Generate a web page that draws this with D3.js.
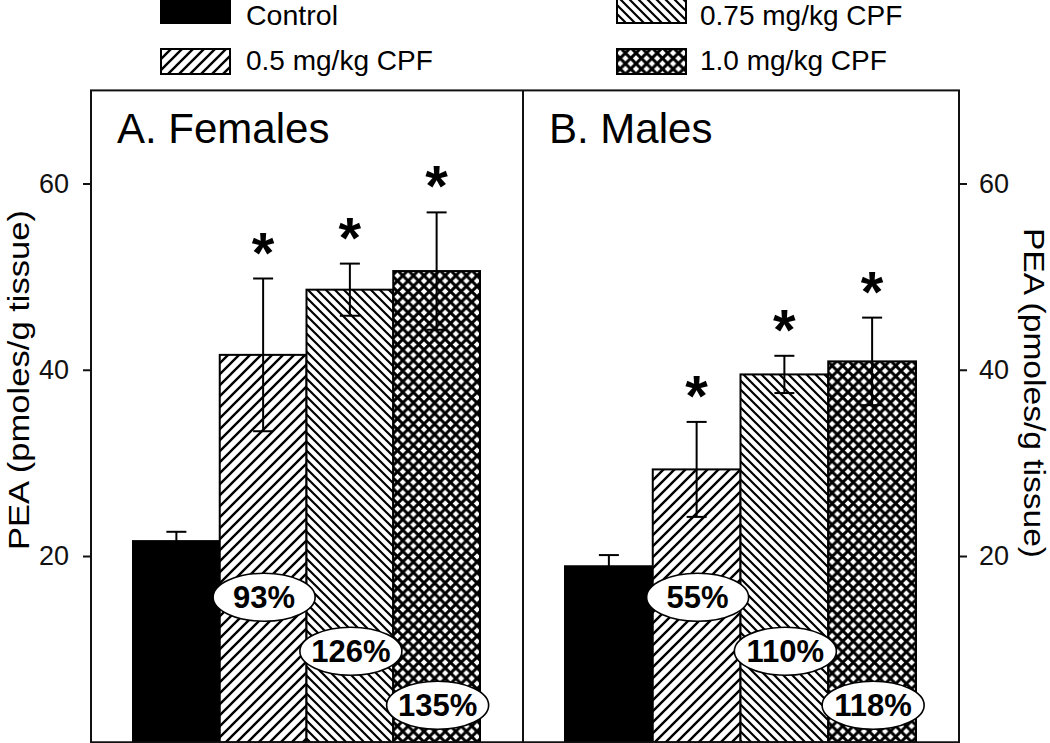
<!DOCTYPE html>
<html>
<head>
<meta charset="utf-8">
<script src="https://cdn.jsdelivr.net/npm/d3@7"></script>
<style>
  html, body { margin: 0; padding: 0; background: #fff; }
  svg { display: block; font-family: "Liberation Sans", Arial, sans-serif; }
</style>
</head>
<body>
<svg id="chart" width="1050" height="743"></svg>
<script>
// ---- data ----
const groups = ["Control", "0.5 mg/kg CPF", "0.75 mg/kg CPF", "1.0 mg/kg CPF"];
const panelTitles = ["A. Females", "B. Males"];
const femaleMeans = [21.6, 41.6, 48.6, 50.6];
const femaleSE = [1.0, 8.2, 2.8, 6.3];
const maleMeans = [18.9, 29.3, 39.5, 40.9];
const maleSE = [1.2, 5.1, 2.0, 4.7];
const femaleSig = [false, true, true, true];
const maleSig = [false, true, true, true];
const femalePct = ["", "93%", "126%", "135%"];
const malePct = ["", "55%", "110%", "118%"];
const yTicks = [20, 40, 60];
const yTitle = "PEA (pmoles/g tissue)";

const panels = [
  { title: panelTitles[0], means: femaleMeans, se: femaleSE, sig: femaleSig, pct: femalePct },
  { title: panelTitles[1], means: maleMeans, se: maleSE, sig: maleSig, pct: malePct }
];

// ---- layout ----
const svg = d3.select("#chart");
const frameL = 91, frameM = 523, frameR = 959;
const y = d3.scaleLinear().domain([0, 70]).range([742.25, 90.4]);
const panelX = [[frameL, frameM], [frameM, frameR]];

// ---- patterns ----
const defs = svg.append("defs");
function hatch(id, s, sw, dirs) {
  const p = defs.append("pattern").attr("id", id).attr("patternUnits", "userSpaceOnUse")
    .attr("width", s).attr("height", s);
  p.append("rect").attr("width", s).attr("height", s).attr("fill", "#fff");
  dirs.forEach(d => {
    const path = d === "/" 
      ? `M${-s},${s} L${s},${-s} M0,${2*s} L${2*s},0 M${-s},${2*s} L${2*s},${-s}`
      : `M${-s},0 L${s},${2*s} M0,${-s} L${2*s},${s} M${-s},${-s} L${2*s},${2*s}`;
    p.append("path").attr("d", path).attr("stroke", "#000").attr("stroke-width", sw).attr("fill", "none");
  });
}
hatch("p05", 11, 2.4, ["/"]);
hatch("p075", 9, 2.2, ["\\"]);
hatch("p10", 10.6, 2.9, ["/", "\\"]);
const fills = ["#000", "url(#p05)", "url(#p075)", "url(#p10)"];

// ---- panels ----
panels.forEach((pd, pi) => {
  const [pl, pr] = panelX[pi];
  const x = d3.scaleBand().domain(groups).range([pl + 42, pr - 43]).padding(0);
  const g = svg.append("g");

  g.selectAll("rect.bar").data(groups).join("rect")
    .attr("class", "bar")
    .attr("x", d => x(d))
    .attr("width", x.bandwidth())
    .attr("y", (d, i) => y(pd.means[i]))
    .attr("height", (d, i) => y(0) - y(pd.means[i]))
    .attr("fill", (d, i) => fills[i])
    .attr("stroke", "#000").attr("stroke-width", 2);

  // error bars
  groups.forEach((d, i) => {
    const cx = x(d) + x.bandwidth() / 2;
    const hi = y(pd.means[i] + pd.se[i]), lo = y(pd.means[i] - pd.se[i]);
    g.append("line").attr("x1", cx).attr("x2", cx).attr("y1", hi).attr("y2", lo)
      .attr("stroke", "#000").attr("stroke-width", 2);
    [hi, lo].forEach(yy => g.append("line").attr("x1", cx - 10).attr("x2", cx + 10)
      .attr("y1", yy).attr("y2", yy).attr("stroke", "#000").attr("stroke-width", 2));
    if (pd.sig[i]) {
      g.append("text").attr("x", cx).attr("y", hi - 6)
        .attr("text-anchor", "middle").attr("font-size", 58).attr("font-weight", "bold")
        .text("*");
    }
  });

  // percentage labels
  groups.forEach((d, i) => {
    if (!pd.pct[i]) return;
    const cx = x(d) + x.bandwidth() / 2 + 1;
    const cy = y(0) - 37 - (3 - i) * 54;
    g.append("ellipse").attr("cx", cx).attr("cy", cy).attr("rx", 51).attr("ry", 24)
      .attr("fill", "#fff").attr("stroke", "#000").attr("stroke-width", 1.6);
    g.append("text").attr("x", cx).attr("y", cy + 11)
      .attr("text-anchor", "middle").attr("font-size", 31).attr("font-weight", "bold")
      .text(pd.pct[i]);
  });

  g.append("text").attr("x", pl + 26).attr("y", 143).attr("font-size", 42).text(pd.title);
});

// ---- frame ----
svg.append("rect").attr("x", frameL).attr("y", y(70)).attr("width", frameR - frameL)
  .attr("height", y(0) - y(70)).attr("fill", "none").attr("stroke", "#111").attr("stroke-width", 2);
svg.append("line").attr("x1", frameM).attr("x2", frameM).attr("y1", y(70)).attr("y2", y(0))
  .attr("stroke", "#111").attr("stroke-width", 2);

// ---- axes ----
const axL = d3.axisLeft(y).tickValues(yTicks).tickSize(8).tickPadding(14);
const axR = d3.axisRight(y).tickValues(yTicks).tickSize(8).tickPadding(12);
const gl = svg.append("g").attr("transform", `translate(${frameL},0)`).call(axL);
const gr = svg.append("g").attr("transform", `translate(${frameR},0)`).call(axR);
[gl, gr].forEach(a => {
  a.select(".domain").remove();
  a.selectAll(".tick line").attr("stroke", "#111").attr("stroke-width", 2);
  a.selectAll(".tick text").attr("font-size", 27).attr("fill", "#111")
    .attr("font-family", "'Liberation Sans', Arial, sans-serif");
});

svg.append("text").attr("transform", `translate(29,380) rotate(-90)`)
  .attr("text-anchor", "middle").attr("font-size", 30)
  .attr("textLength", 340).attr("lengthAdjust", "spacingAndGlyphs").text(yTitle);
svg.append("text").attr("transform", `translate(1024,393) rotate(90)`)
  .attr("text-anchor", "middle").attr("font-size", 30)
  .attr("textLength", 330).attr("lengthAdjust", "spacingAndGlyphs").text(yTitle);

// ---- legend ----
const legendPos = [
  { x: 161, y: -2, tx: 246, ty: 25 },
  { x: 161, y: 49, tx: 246, ty: 70 },
  { x: 617, y: -2, tx: 700, ty: 25 },
  { x: 617, y: 49, tx: 700, ty: 70 }
];
const lg = svg.append("g");
groups.forEach((d, i) => {
  const p = legendPos[i];
  lg.append("rect").attr("x", p.x).attr("y", p.y).attr("width", 69).attr("height", 25)
    .attr("fill", fills[i]).attr("stroke", "#000").attr("stroke-width", 2);
  lg.append("text").attr("x", p.tx).attr("y", p.ty).attr("font-size", 28)
    .attr("textLength", i === 0 ? 92 : null)
    .attr("lengthAdjust", "spacingAndGlyphs").text(d);
});
</script>
</body>
</html>
